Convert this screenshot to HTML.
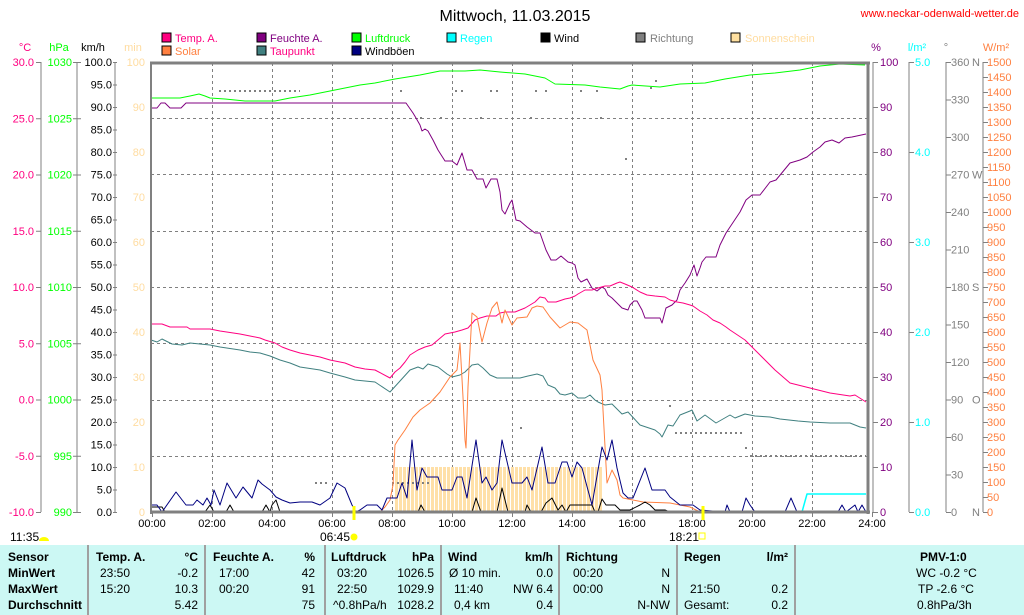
<!DOCTYPE html>
<html><head><meta charset="utf-8"><style>
html,body{margin:0;padding:0;background:#fff;}
body{width:1024px;height:615px;overflow:hidden;position:relative;font-family:"Liberation Sans",sans-serif;}
svg{position:absolute;left:0;top:0;}
.tb{position:absolute;left:0;top:545px;width:1024px;height:70px;background:#ccf8f4;font-size:12px;}
.tb div{position:absolute;white-space:nowrap;}
.b{font-weight:bold;}
.sep{position:absolute;top:0;width:2px;height:70px;background:#a0a0a0;}
</style></head><body>
<svg width="1024" height="615" viewBox="0 0 1024 615" font-family="Liberation Sans, sans-serif">
<defs>
<pattern id="sun" x="395" y="0" width="4" height="10" patternUnits="userSpaceOnUse"><rect x="0" y="0" width="3" height="10" fill="#ffe0a8"/></pattern>
</defs>
<text x="515" y="21" font-size="16" text-anchor="middle">Mittwoch, 11.03.2015</text>
<text x="1019" y="17" font-size="11" fill="#ff0000" text-anchor="end">www.neckar-odenwald-wetter.de</text>
<g font-size="11">
<rect x="162" y="33" width="9" height="9" fill="#ff0080" stroke="#000"/><text x="175" y="42" fill="#ff0080">Temp. A.</text>
<rect x="162" y="46" width="9" height="9" fill="#ff8040" stroke="#000"/><text x="175" y="55" fill="#ff8040">Solar</text>
<rect x="257" y="33" width="9" height="9" fill="#800080" stroke="#000"/><text x="270" y="42" fill="#800080">Feuchte A.</text>
<rect x="257" y="46" width="9" height="9" fill="#408080" stroke="#000"/><text x="270" y="55" fill="#ff0080">Taupunkt</text>
<rect x="352" y="33" width="9" height="9" fill="#00ff00" stroke="#000"/><text x="365" y="42" fill="#00ff00">Luftdruck</text>
<rect x="352" y="46" width="9" height="9" fill="#000080" stroke="#000"/><text x="365" y="55" fill="#000">Windböen</text>
<rect x="447" y="33" width="9" height="9" fill="#00ffff" stroke="#000"/><text x="460" y="42" fill="#00ffff">Regen</text>
<rect x="541" y="33" width="9" height="9" fill="#000" stroke="#000"/><text x="554" y="42">Wind</text>
<rect x="636" y="33" width="9" height="9" fill="#808080" stroke="#000"/><text x="650" y="42" fill="#808080">Richtung</text>
<rect x="731" y="33" width="9" height="9" fill="#ffe0a0" stroke="#000"/><text x="745" y="42" fill="#ffdca0">Sonnenschein</text>
</g>
<g font-size="11">
<text x="25" y="51" text-anchor="middle" fill="#ff0080">°C</text>
<text x="59" y="51" text-anchor="middle" fill="#00ff00">hPa</text>
<text x="93" y="51" text-anchor="middle">km/h</text>
<text x="133" y="51" text-anchor="middle" fill="#ffdca0">min</text>
<text x="876" y="51" text-anchor="middle" fill="#800080">%</text>
<text x="917" y="51" text-anchor="middle" fill="#00ffff">l/m²</text>
<text x="946" y="51" text-anchor="middle" fill="#808080">°</text>
<text x="996" y="51" text-anchor="middle" fill="#ff8040">W/m²</text>
</g>
<g stroke="#808080" stroke-dasharray="3,3" stroke-width="1">
<line x1="151" y1="118.5" x2="868" y2="118.5"/><line x1="151" y1="174.5" x2="868" y2="174.5"/>
<line x1="151" y1="231.5" x2="868" y2="231.5"/><line x1="151" y1="287.5" x2="868" y2="287.5"/>
<line x1="151" y1="343.5" x2="868" y2="343.5"/><line x1="151" y1="400.5" x2="868" y2="400.5"/>
<line x1="151" y1="456.5" x2="868" y2="456.5"/>
<line x1="212.5" y1="63" x2="212.5" y2="512"/><line x1="272.5" y1="63" x2="272.5" y2="512"/>
<line x1="332.5" y1="63" x2="332.5" y2="512"/><line x1="392.5" y1="63" x2="392.5" y2="512"/>
<line x1="452.5" y1="63" x2="452.5" y2="512"/><line x1="512.5" y1="63" x2="512.5" y2="512"/>
<line x1="572.5" y1="63" x2="572.5" y2="512"/><line x1="632.5" y1="63" x2="632.5" y2="512"/>
<line x1="692.5" y1="63" x2="692.5" y2="512"/><line x1="752.5" y1="63" x2="752.5" y2="512"/>
<line x1="812.5" y1="63" x2="812.5" y2="512"/>
</g>
<rect x="395" y="467" width="208" height="45" fill="url(#sun)"/>
<g stroke="#808080" stroke-dasharray="2,3" stroke-width="2">
<line x1="219" y1="91" x2="300" y2="91"/>
<line x1="675" y1="433" x2="742" y2="433"/>
<line x1="750" y1="456" x2="866" y2="456"/>
<line x1="392" y1="483" x2="430" y2="483"/>
<line x1="315" y1="483" x2="330" y2="483"/>
</g>
<g fill="#808080">
<rect x="400" y="90" width="2" height="2"/><rect x="455" y="90" width="2" height="2"/><rect x="461" y="90" width="2" height="2"/>
<rect x="490" y="90" width="2" height="2"/><rect x="496" y="90" width="2" height="2"/><rect x="535" y="90" width="2" height="2"/>
<rect x="545" y="90" width="2" height="2"/><rect x="580" y="90" width="2" height="2"/><rect x="596" y="90" width="2" height="2"/>
<rect x="655" y="80" width="2" height="2"/><rect x="650" y="87" width="2" height="2"/><rect x="625" y="158" width="2" height="2"/>
<rect x="669" y="405" width="2" height="2"/><rect x="745" y="447" width="2" height="2"/><rect x="520" y="427" width="2" height="2"/>
<rect x="420" y="117" width="2" height="2"/><rect x="440" y="117" width="2" height="2"/><rect x="480" y="117" width="2" height="2"/><rect x="530" y="117" width="2" height="2"/><rect x="600" y="117" width="2" height="2"/>
</g>
<g fill="none" stroke-width="1" stroke-linejoin="round">
<polyline stroke="#00ff00" points="151,98 180,98 190,96 199,94 205,96 210,98 225,99 245,101 275,101 290,98 310,95 330,91 345,88 360,85 375,83 395,79 420,75 440,71 465,71 480,70 500,72 525,74 545,78 555,84 585,85 600,87 620,89 628,86 632,85 660,87 680,84 705,83 725,79 750,75 775,73 800,70 820,66 840,64 865,65"/>
<polyline stroke="#800080" points="151,108 157,108 161,103 165,103 170,108 181,108 186,103 406,103 413,113 416,118 420,125 422,131 425,129 428,131 433,140 438,150 445,161 452,161 457,165 462,153 467,170 472,170 477,179 483,179 486,188 491,179 497,179 500,192 502,210 505,214 510,203 512,200 516,220 520,221 527,227 535,233 540,233 546,250 551,260 556,260 561,256 568,262 572,263 575,265 578,278 581,282 587,279 592,288 597,291 602,287 605,289 608,295 612,298 617,303 622,308 628,310 630,305 634,301 637,301 642,310 645,318 660,318 662,323 666,308 672,305 677,300 680,290 685,283 690,275 694,265 697,276 700,268 702,262 706,257 716,257 720,245 726,233 730,227 740,212 746,200 752,195 760,195 770,182 776,180 790,163 800,160 807,157 813,152 820,147 825,142 832,140 839,143 845,138 852,137 866,134"/>
<polyline stroke="#408080" points="151,340 157,342 162,339 172,344 182,345 190,343 210,345 220,347 240,350 250,352 260,353 270,356 280,360 290,363 300,367 320,370 330,373 345,377 355,380 365,381 375,382 390,392 400,381 410,370 418,367 423,369 428,364 438,367 447,374 452,377 460,375 465,372 472,365 478,364 483,368 490,375 497,378 505,378 513,378 520,378 528,376 537,374 543,376 548,385 555,388 560,394 565,395 572,393 578,398 585,398 590,395 595,400 598,402 605,405 612,404 622,414 628,412 640,425 655,430 660,434 662,437 668,425 673,426 680,415 690,411 692,410 697,421 705,415 716,423 730,415 735,418 745,414 755,416 770,417 780,419 798,421 810,422 830,423 850,423 860,427 866,428"/>
<polyline stroke="#ff0080" points="151,324 162,324 170,327 187,327 190,329 210,329 220,331 240,334 250,336 260,338 265,340 275,343 282,347 290,350 300,353 320,357 330,360 345,363 355,367 365,369 375,370 390,378 395,372 400,368 405,362 410,355 418,350 425,347 432,345 445,334 455,332 462,330 468,328 475,320 480,318 487,316 496,316 500,313 505,312 515,312 520,310 525,308 530,305 535,302 540,297 545,298 548,302 556,302 565,299 570,298 575,296 578,294 585,290 592,290 598,288 605,286 610,286 617,283 620,282 625,284 632,287 640,292 647,295 655,296 665,297 670,300 677,302 683,303 690,305 693,306 700,311 707,315 713,320 720,323 726,327 730,330 745,340 760,355 775,370 790,383 810,388 830,393 850,396 855,395 866,402"/>
<polyline stroke="#ff8040" points="151,512 380,512 385,507 390,500 393,485 395,445 398,440 405,430 413,417 420,410 430,403 440,392 450,377 457,370 460,343 463,397 465,440 466,448 468,387 472,313 477,317 482,342 487,323 492,308 497,302 502,323 505,310 512,325 517,318 527,317 532,308 537,306 543,307 550,317 560,328 570,322 578,323 587,330 593,360 600,375 602,390 603,410 607,483 612,470 617,480 620,495 623,498 643,502 670,503 690,507 698,511 702,512"/>
<polyline stroke="#000" stroke-width="1" points="151,507 162,507 165,512 205,512 210,505 214,512 226,512 230,505 234,512 262,512 266,505 270,512 272,505 276,500 280,512 380,512 418,512 421,505 425,512 472,512 476,498 481,512 497,512 502,488 508,512 525,512 527,505 531,512 541,512 546,503 552,498 558,510 562,505 566,512 570,505 592,505 595,512 598,512 602,499 606,505 615,505 620,510 630,510 640,505 645,502 650,505 655,510 665,510 670,512 866,512"/>
<polyline stroke="#000080" points="151,505 157,505 162,512 176,492 186,505 193,505 197,500 203,505 207,498 211,505 214,490 220,505 227,483 236,498 243,487 252,498 258,480 262,484 270,490 276,497 282,500 290,503 300,502 312,502 320,505 330,498 337,483 345,488 352,505 356,512 360,510 367,505 377,505 382,510 387,498 397,498 402,483 407,498 412,440 417,490 422,468 427,477 438,477 442,490 452,490 457,477 462,477 467,498 476,440 482,483 486,477 492,490 497,483 502,440 512,483 522,483 527,477 532,490 542,447 548,483 555,483 562,462 567,462 572,477 577,462 582,468 592,505 602,447 607,460 612,440 617,468 623,493 628,498 633,498 645,468 652,490 665,490 670,497 680,505 693,505 700,510 725,512 727,505 730,512 742,512 746,498 750,505 755,512 785,512 791,498 797,512 838,512 842,505 846,512 855,505 858,512 862,505 866,512"/>
<polyline stroke="#00ffff" stroke-width="1.5" points="802,512 807,494 866,494"/>
</g>
<g stroke="#808080" fill="none">
<line x1="150" y1="63" x2="870" y2="63" stroke-width="3"/>
<line x1="151" y1="62" x2="151" y2="514" stroke-width="2"/>
<line x1="150" y1="512" x2="870" y2="512" stroke-width="3"/>
<line x1="868" y1="62" x2="868" y2="514" stroke-width="3"/>
<line x1="41" y1="62" x2="41" y2="512"/><line x1="77" y1="62" x2="77" y2="512"/><line x1="115" y1="62" x2="115" y2="512"/>
<line x1="909" y1="62" x2="909" y2="512"/><line x1="946" y1="62" x2="946" y2="512"/><line x1="983" y1="62" x2="983" y2="512"/>
<line x1="873" y1="62" x2="873" y2="512"/>
</g>
<g stroke="#808080" id="ticks"></g>
<g id="labels" font-size="11"></g>
<line x1="354" y1="506" x2="354" y2="520" stroke="#ffff00" stroke-width="3"/>
<line x1="703" y1="506" x2="703" y2="520" stroke="#ffff00" stroke-width="3"/>
<g font-size="12">
<text x="10" y="541">11:35</text><path d="M39,541 a5,4 0 0 1 10,0 z" fill="#ffff00"/>
<text x="320" y="541">06:45</text><circle cx="354" cy="537" r="3.5" fill="#ffff00"/>
<text x="669" y="541">18:21</text><rect x="699" y="533" width="6" height="6" fill="none" stroke="#ffff00"/>
</g>
</svg>
<div class="tb">
<div class="sep" style="left:87px"></div><div class="sep" style="left:204px"></div><div class="sep" style="left:324px"></div><div class="sep" style="left:440px"></div><div class="sep" style="left:558px"></div><div class="sep" style="left:676px"></div><div class="sep" style="left:794px"></div>
<div class="b" style="left:8px;top:5px">Sensor</div><div class="b" style="left:8px;top:21px">MinWert</div><div class="b" style="left:8px;top:37px">MaxWert</div><div class="b" style="left:8px;top:53px">Durchschnitt</div>
<div class="b" style="left:96px;top:5px">Temp. A.</div><div class="b" style="right:826px;top:5px">°C</div>
<div style="left:100px;top:21px">23:50</div><div style="right:826px;top:21px">-0.2</div>
<div style="left:100px;top:37px">15:20</div><div style="right:826px;top:37px">10.3</div>
<div style="right:826px;top:53px">5.42</div>
<div class="b" style="left:213px;top:5px">Feuchte A.</div><div class="b" style="right:709px;top:5px">%</div>
<div style="left:219px;top:21px">17:00</div><div style="right:709px;top:21px">42</div>
<div style="left:219px;top:37px">00:20</div><div style="right:709px;top:37px">91</div>
<div style="right:709px;top:53px">75</div>
<div class="b" style="left:331px;top:5px">Luftdruck</div><div class="b" style="right:590px;top:5px">hPa</div>
<div style="left:337px;top:21px">03:20</div><div style="right:590px;top:21px">1026.5</div>
<div style="left:337px;top:37px">22:50</div><div style="right:590px;top:37px">1029.9</div>
<div style="left:333px;top:53px">^0.8hPa/h</div><div style="right:590px;top:53px">1028.2</div>
<div class="b" style="left:448px;top:5px">Wind</div><div class="b" style="right:471px;top:5px">km/h</div>
<div style="left:449px;top:21px">Ø 10 min.</div><div style="right:471px;top:21px">0.0</div>
<div style="left:454px;top:37px">11:40</div><div style="right:471px;top:37px">NW 6.4</div>
<div style="left:454px;top:53px">0,4 km</div><div style="right:471px;top:53px">0.4</div>
<div class="b" style="left:566px;top:5px">Richtung</div>
<div style="left:573px;top:21px">00:20</div><div style="right:354px;top:21px">N</div>
<div style="left:573px;top:37px">00:00</div><div style="right:354px;top:37px">N</div>
<div style="right:354px;top:53px">N-NW</div>
<div class="b" style="left:684px;top:5px">Regen</div><div class="b" style="right:236px;top:5px">l/m²</div>
<div style="left:690px;top:37px">21:50</div><div style="right:236px;top:37px">0.2</div>
<div style="left:684px;top:53px">Gesamt:</div><div style="right:236px;top:53px">0.2</div>
<div class="b" style="left:920px;top:5px">PMV-1:0</div>
<div style="left:916px;top:21px">WC -0.2 °C</div>
<div style="left:918px;top:37px">TP -2.6 °C</div>
<div style="left:917px;top:53px">0.8hPa/3h</div>
</div>
<script>
(function(){
var NS="http://www.w3.org/2000/svg";var T=document.getElementById("ticks"),L=document.getElementById("labels");
function t(x,y,s,fill,anchor){var e=document.createElementNS(NS,"text");e.setAttribute("x",x);e.setAttribute("y",y+4);e.setAttribute("fill",fill);if(anchor)e.setAttribute("text-anchor",anchor);e.textContent=s;L.appendChild(e);}
function k(x1,x2,y){var e=document.createElementNS(NS,"line");e.setAttribute("x1",x1);e.setAttribute("x2",x2);e.setAttribute("y1",y+.5);e.setAttribute("y2",y+.5);T.appendChild(e);}
for(var i=0;i<=8;i++){var y=62+i*56.25;t(34,y,(30-5*i).toFixed(1),"#ff0080","end");k(36,41,y);t(72,y,String(1030-5*i),"#00ff00","end");k(73,81,y);}
for(var i=0;i<=20;i++){var y=62+i*22.5;t(112,y,(100-5*i).toFixed(1),"#000","end");k(113,117,y);}
for(var i=0;i<=10;i++){var y=62+i*45;t(145,y,String(100-10*i),"#ffdca0","end");t(880,y,String(100-10*i),"#800080");k(873,878,y);}
for(var i=0;i<=5;i++){var y=62+i*90;t(915,y,(5-i).toFixed(1),"#00ffff");k(909,914,y);}
var dir={0:"N",3:"W",6:"S",9:"O",12:"N"};
for(var i=0;i<=12;i++){var y=62+i*37.5;t(951,y,String(360-30*i),"#808080");k(946,951,y);if(dir[i])t(972,y,dir[i],"#808080");}
for(var i=0;i<=30;i++){var y=62+i*15;t(987,y,String(1500-50*i),"#ff8040");k(983,988,y);}
for(var h=0;h<=24;h+=2){var x=152+h*30;t(x,523,(h<10?"0":"")+h+":00","#000","middle");var e=document.createElementNS(NS,"line");e.setAttribute("x1",x+.5);e.setAttribute("x2",x+.5);e.setAttribute("y1",512);e.setAttribute("y2",517);T.appendChild(e);}
})();
</script>
</body></html>
